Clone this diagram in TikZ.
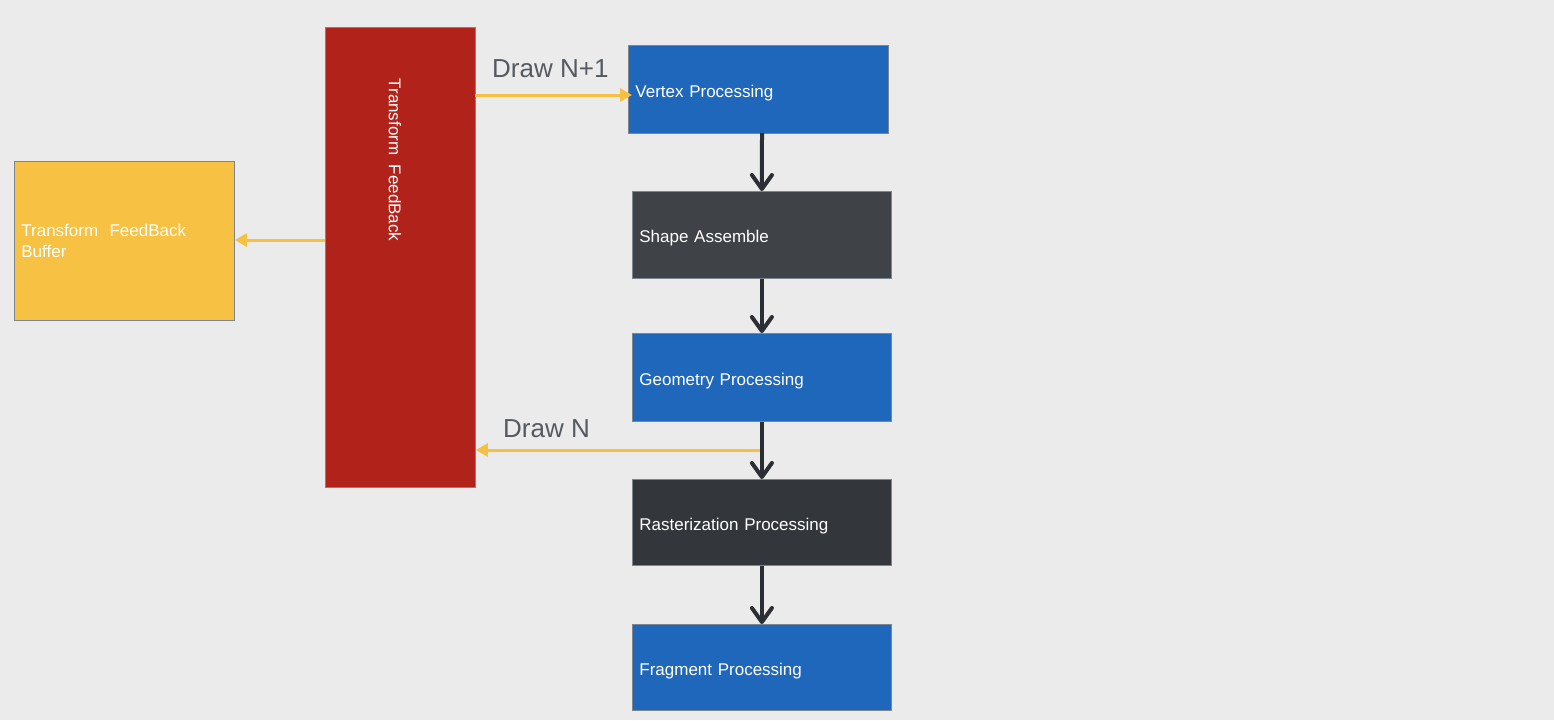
\documentclass[tikz,border=0pt]{standalone}
\usepackage{fontspec}
\setmainfont{Liberation Sans}
\usetikzlibrary{arrows.meta}
\definecolor{bgc}{RGB}{235,235,235}
\definecolor{redbox}{RGB}{176,34,26}
\definecolor{yelbox}{RGB}{247,193,67}
\definecolor{bluebox}{RGB}{31,103,186}
\definecolor{darkboxA}{RGB}{63,66,71}
\definecolor{darkboxB}{RGB}{51,54,58}
\definecolor{edgegray}{RGB}{125,133,142}
\definecolor{arrowdark}{RGB}{43,46,51}
\definecolor{arrowyel}{RGB}{246,193,66}
\definecolor{labelgray}{RGB}{85,90,96}
\tikzset{
  stagebox/.style={draw=edgegray, line width=0.8pt, rectangle, anchor=north west,
    inner xsep=7pt, inner ysep=0pt, align=left, text=white,
    font=\fontsize{17}{21}\selectfont},
  oneline/.style={text height=16pt, text depth=0pt},
  flowarrow/.style={draw=arrowdark, line width=4pt,
    -{Straight Barb[length=14pt,width=20pt,line cap=round,line join=round]}},
  feedarrow/.style={draw=arrowyel, line width=3pt,
    -{Triangle[length=12pt,width=13pt]}},
  drawlabel/.style={text=labelgray, font=\fontsize{26}{30}\selectfont, inner sep=0pt}
}
\begin{document}
\begin{tikzpicture}[x=1pt,y=-1pt]
\fill[bgc] (0,0) rectangle (1554,720);
\useasboundingbox (0,0) rectangle (1554,720);

% red transform feedback box
\node[stagebox, fill=redbox, minimum width=150pt, minimum height=460pt] (tf) at (325,27) {};
\node[text=white, rotate=-90, font=\fontsize{17}{21}\selectfont, inner sep=0pt] (tftext) at (395,160) {Transform\ \ FeedBack};

% yellow buffer
\node[stagebox, fill=yelbox, minimum width=220pt, minimum height=159pt, text width=206pt] (buf) at (14,161) {Transform\ \ FeedBack\\Buffer};

% pipeline
\node[stagebox, oneline, fill=bluebox, minimum width=260pt, minimum height=88pt, text width=246pt] (vp) at (628,45) {Vertex Processing};
\node[stagebox, oneline, fill=darkboxA, minimum width=259pt, minimum height=87pt, text width=245pt] (sa) at (632,191) {Shape Assemble};
\node[stagebox, oneline, fill=bluebox, minimum width=259pt, minimum height=88pt, text width=245pt] (gp) at (632,333) {Geometry Processing};
\node[stagebox, oneline, fill=darkboxB, minimum width=259pt, minimum height=86pt, text width=245pt] (rp) at (632,479) {Rasterization Processing};
\node[stagebox, oneline, fill=bluebox, minimum width=259pt, minimum height=86pt, text width=245pt] (fp) at (632,624) {Fragment Processing};

% yellow arrows
\coordinate (tfout) at (475,95);
\coordinate (vpin) at (632,95);
\draw[feedarrow] (tfout) -- (vpin);
\coordinate (tfleft) at (325,240);
\draw[feedarrow] (tfleft) -- (buf.east |- tfleft);
\coordinate (drawnstart) at (762,450);
\draw[feedarrow] (drawnstart) -- (tf.east |- drawnstart);

% labels
\node[drawlabel, anchor=west] (lbl1) at (492,69) {Draw N+1};
\node[drawlabel, anchor=west] (lbl2) at (503,429) {Draw N};

% dark flow arrows
\coordinate (vpbot) at (762,133);
\draw[flowarrow] (vpbot) -- (sa.north);
\draw[flowarrow] (sa.south) -- (gp.north);
\draw[flowarrow] (gp.south) -- (rp.north);
\draw[flowarrow] (rp.south) -- (fp.north);
\end{tikzpicture}
\end{document}
